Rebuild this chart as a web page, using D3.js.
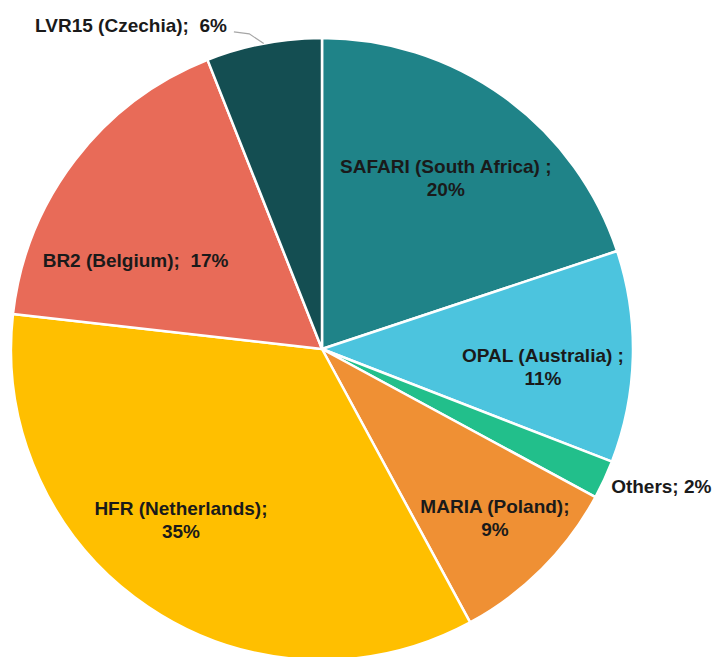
<!DOCTYPE html>
<html>
<head>
<meta charset="utf-8">
<script src="https://cdn.jsdelivr.net/npm/d3@7/dist/d3.min.js"></script>
<style>
  html, body { margin: 0; padding: 0; background: #fff; }
  svg { display: block; }
</style>
</head>
<body>
<div id="chart"></div>
<script>
// reactor shares, clockwise from 12 o'clock
const reactors = ['SAFARI', 'OPAL', 'Others', 'MARIA', 'HFR', 'BR2', 'LVR15'];
const countries = ['South Africa', 'Australia', null, 'Poland', 'Netherlands', 'Belgium', 'Czechia'];
const shares = [19.9, 11.0, 2.0, 9.2, 34.7, 17.2, 6.0];
const shareLabels = ['20%', '11%', '2%', '9%', '35%', '17%', '6%'];
const labelLines = [
  ['SAFARI (South Africa) ;', '20%'],
  ['OPAL (Australia) ;', '11%'],
  ['Others; 2%'],
  ['MARIA (Poland);', '9%'],
  ['HFR (Netherlands);', '35%'],
  ['BR2 (Belgium);  17%'],
  ['LVR15 (Czechia);  6%'],
];
const colors = ['#1f8388', '#4cc4de', '#22bf8b', '#ef9034', '#ffbf00', '#e86b58', '#144e52'];

const width = 714;
const height = 657;
const cx = 322;
const cy = 349;
const radius = 311;
const fontSize = 19;
const lineHeight = 23;

// label placement: polar angle (deg) and radius fraction, anchor
const labelPos = [
  { a: 35.9, k: 0.679, anchor: 'middle' },
  { a: 94.7, k: 0.713, anchor: 'middle' },
  { a: 115.5, k: 1.03, anchor: 'start' },
  { a: 134.3, k: 0.777, anchor: 'middle' },
  { a: 219.5, k: 0.713, anchor: 'middle' },
  { a: 295.3, k: 0.663, anchor: 'middle' },
  { a: 343.6, k: 1.083, anchor: 'end' },
];

const data = reactors.map((name, i) => ({
  name,
  country: countries[i],
  value: shares[i],
  label: shareLabels[i],
  lines: labelLines[i],
  color: colors[i],
  pos: labelPos[i],
}));

const svg = d3.select('#chart')
  .append('svg')
  .attr('width', width)
  .attr('height', height);

const g = svg.append('g')
  .attr('transform', `translate(${cx},${cy})`);

const pie = d3.pie()
  .sort(null)
  .value(d => d.value);

const arc = d3.arc()
  .innerRadius(0)
  .outerRadius(radius);

const arcs = pie(data);

g.selectAll('path.slice')
  .data(arcs)
  .enter()
  .append('path')
  .attr('class', 'slice')
  .attr('d', arc)
  .attr('fill', d => d.data.color)
  .attr('stroke', '#fff')
  .attr('stroke-width', 2.5)
  .attr('stroke-linejoin', 'round');

function polar(angleDeg, r) {
  const t = angleDeg * Math.PI / 180;
  return [Math.sin(t) * r, -Math.cos(t) * r];
}

// leader line for the small slice at the top
const lvr = arcs[6];
const mid = (lvr.startAngle + lvr.endAngle) / 2 * 180 / Math.PI;
const lvrLabel = polar(lvr.data.pos.a, lvr.data.pos.k * radius);
const leader = [
  [lvrLabel[0] + 7, lvrLabel[1] + 6],
  polar(mid - 2.2, radius * 1.04),
  polar(mid, radius),
];
g.append('path')
  .attr('d', d3.line()(leader))
  .attr('fill', 'none')
  .attr('stroke', '#a6a6a6')
  .attr('stroke-width', 1.2);

const labels = g.selectAll('text.label')
  .data(arcs)
  .enter()
  .append('text')
  .attr('class', 'label')
  .attr('font-family', '"Liberation Sans", Arial, sans-serif')
  .attr('font-weight', 'bold')
  .attr('font-size', fontSize)
  .attr('fill', '#1a1a1a')
  .attr('text-anchor', d => d.data.pos.anchor)
  .attr('transform', (d) => {
    const p = polar(d.data.pos.a, d.data.pos.k * radius);
    return `translate(${p[0]},${p[1]})`;
  });

labels.selectAll('tspan')
  .data(d => d.data.lines.map((t, i, arr) => ({ t, i, n: arr.length })))
  .enter()
  .append('tspan')
  .attr('x', 0)
  .attr('y', d => (d.n === 1 ? 6 : -5 + d.i * lineHeight))
  .attr('xml:space', 'preserve')
  .style('white-space', 'pre')
  .text(d => d.t);
</script>
</body>
</html>
